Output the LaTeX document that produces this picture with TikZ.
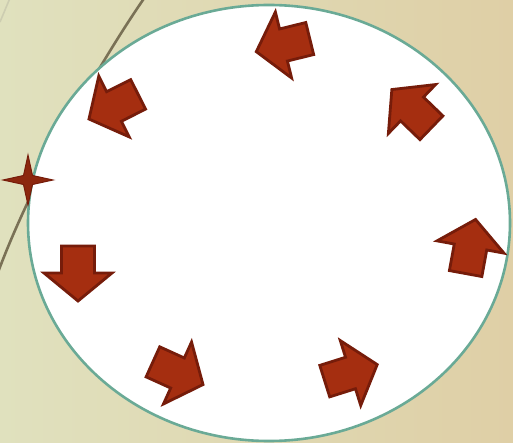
\documentclass[tikz,border=0pt]{standalone}
\usetikzlibrary{calc}
\definecolor{paleleft}{RGB}{224,225,190}
\definecolor{paleright}{RGB}{223,207,166}
\definecolor{rimgreen}{RGB}{106,170,150}
\definecolor{rustfill}{RGB}{165,46,16}
\definecolor{rustedge}{RGB}{118,28,10}
\definecolor{trailgray}{RGB}{122,113,86}
\tikzset{
 backdrop/.style={left color=paleleft,right color=paleright,draw=none},
 trail/.style={draw=trailgray,line width=2.6pt},
 faint/.style={draw=paleleft!80!gray,line width=1.6pt},
 rim/.style={draw=rimgreen,fill=white,line width=2.6pt},
 blockarrow/.style={draw=rustedge,fill=rustfill,line width=2.8pt,line join=miter},
 sparkle/.style={draw=rustedge,fill=rustfill!85!black,line width=1pt,line join=miter}
}

\begin{document}
\begin{tikzpicture}[x=1pt,y=-1pt]
\useasboundingbox (0,0) rectangle (513,443);
\fill[backdrop] (0,0) rectangle (513,443);
% the curve behind the ellipse
\draw[faint] (0,22) -- (10,-2);
\coordinate (T0) at (145,-3);
\coordinate (T1) at (-3,275);
\draw[trail] (T0) .. controls (100,62) and (32,180) .. (T1);
% the ellipse
\coordinate (C) at (269,223);
\draw[rim] (C) ellipse [x radius=241,y radius=218];
% arrows round the ring
\foreach \px/\py/\ang in {283.5/45/193.8, 114/106.5/206.6, 78/273/270, 177.5/373/-24.4,
 350.5/373/17.5, 470.5/247/79.6, 412/109/136}{
 \begin{scope}[shift={(\px,\py)},rotate=\ang]
 \draw[blockarrow] (-27,-16.5) -- (0,-16.5) -- (0,-34) -- (28,0) -- (0,34) -- (0,16.5) -- (-27,16.5) -- cycle;
 \end{scope}
}
% the star on the rim
\coordinate (S) at (28,180);
\draw[sparkle] ($(S)+(0,-25)$) -- ($(S)+(4.5,-4.5)$) -- ($(S)+(25,0)$) -- ($(S)+(4.5,4.5)$)
 -- ($(S)+(0,25)$) -- ($(S)+(-4.5,4.5)$) -- ($(S)+(-25,0)$) -- ($(S)+(-4.5,-4.5)$) -- cycle;
\end{tikzpicture}
\end{document}
